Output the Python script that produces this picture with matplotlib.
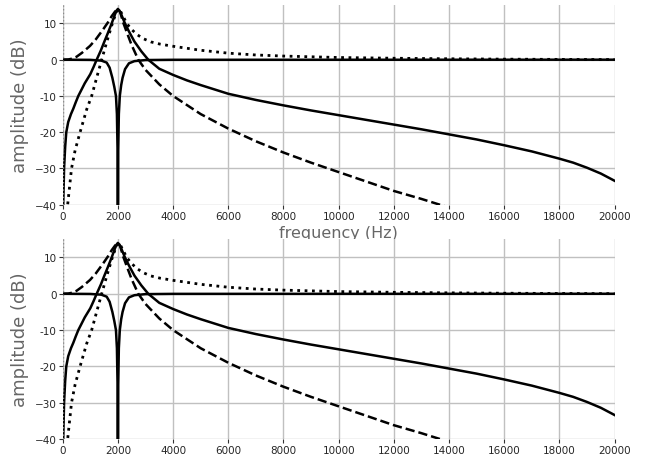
import matplotlib
matplotlib.use("Agg")
import matplotlib.pyplot as plt

# peaking response (solid, rising from the left)
peak_f = [0, 20, 50, 90, 130, 200, 300, 385, 470, 566, 680, 800, 1000, 1120, 1232, 1380, 1500,
          1640, 1775, 1900, 1960, 2000, 2050, 2120, 2257, 2400, 2600, 2850, 3100, 3500, 4000,
          4500, 5000, 6000, 7000, 8000, 9000, 10000, 11000, 12000, 13000, 14000, 15000, 16000,
          17000, 18000, 18500, 19000, 19500, 20000]
peak_db = [-80, -40, -30, -24, -20, -17.2, -15, -13.5, -11.8, -10, -8.3, -6.5, -4, -2, 0, 2.5,
           4.8, 7.4, 10, 12.6, 13.6, 14, 13.6, 12.5, 10, 7.8, 5, 2.3, 0, -2.5, -4.2,
           -5.7, -7, -9.4, -11.1, -12.6, -14.0, -15.3, -16.6, -17.9, -19.2, -20.6, -22.0, -23.6,
           -25.3, -27.3, -28.4, -29.8, -31.4, -33.4]

# resonant lowpass (dashed)
low_f = [0, 200, 350, 500, 700, 990, 1200, 1470, 1650, 1775, 1900, 2000, 2080, 2190, 2350,
         2500, 2740, 3000, 3500, 4000, 5000, 6000, 7000, 8000, 9000, 10000, 11000, 12000,
         13000, 14000, 16000, 18000, 20000]
low_db = [0, 0.05, 0.3, 0.8, 1.9, 3.8, 5.6, 8.4, 10.4, 12, 13.3, 14, 13.2, 10.3, 7,
          4, 0, -2.8, -6.8, -10, -15, -19, -22.5, -25.6, -28.4, -31, -33.6, -36.2,
          -38.4, -40.8, -45, -49, -52]

# resonant highpass (dotted)
high_f = [100, 180, 320, 450, 630, 870, 1050, 1230, 1413, 1600, 1800, 1920, 2000, 2100, 2200,
          2320, 2500, 2700, 2920, 3200, 3525, 4000, 5000, 6000, 7000, 8000, 10000, 12000,
          14000, 16000, 18000, 20000]
high_db = [-50, -40, -30, -25, -20, -13.7, -10, -5, 0, 5, 10, 12.6, 14, 13.3, 11.8,
           10, 8.3, 6.9, 5.8, 4.9, 4.3, 3.7, 2.6, 1.8, 1.3, 1.0, 0.6, 0.4,
           0.25, 0.15, 0.08, 0.03]

# notch (solid, dip at 2 kHz)
notch_f = [0, 1000, 1400, 1594, 1700, 1800, 1870, 1930, 1965, 1988, 2000, 2012, 2035, 2070,
           2120, 2170, 2260, 2400, 2600, 3000, 4000, 20000]
notch_db = [0, -0.05, -0.25, -0.8, -2.2, -5, -7.5, -10, -15, -25, -100, -25, -15, -10,
            -7, -5, -2.6, -1, -0.4, -0.1, -0.03, 0]

xticks = list(range(0, 20001, 2000))
yticks = [-40, -30, -20, -10, 0, 10]
ytick_labels = ['\u221240', '\u221230', '-20', '-10', '0', '10']

fig = plt.figure(figsize=(6.47, 4.6), dpi=100)
ax1 = fig.add_axes([0.0969, 0.5528, 0.853, 0.4335])
ax2 = fig.add_axes([0.0969, 0.0435, 0.853, 0.4341])

for ax in (ax1, ax2):
    ax.plot(peak_f, peak_db, color='black', lw=1.8, ls='-')
    ax.plot(low_f, low_db, color='black', lw=1.8, ls='--')
    ax.plot(high_f, high_db, color='black', lw=2.0, ls=':')
    ax.plot(notch_f, notch_db, color='black', lw=1.8, ls='-')
    ax.axvline(0, color='0.55', lw=1, ls=':')
    ax.set_xlim(0, 20000)
    ax.set_ylim(-40, 15)
    ax.set_xticks(xticks)
    ax.set_xticklabels([str(t) for t in xticks])
    ax.set_yticks(yticks)
    ax.set_yticklabels(ytick_labels)
    ax.grid(True, color='#c0c0c0', lw=1)
    ax.set_axisbelow(True)
    for s in ax.spines.values():
        s.set_visible(False)
    ax.tick_params(labelsize=7.5, length=3, color='0.2', labelcolor='0.15', pad=1.5)
    ax.set_ylabel('amplitude (dB)', fontsize=13, color='0.4', labelpad=4)

ax1.set_xlabel('frequency (Hz)', fontsize=11.5, color='0.4', labelpad=3)

fig.savefig('out.png', dpi=100)
